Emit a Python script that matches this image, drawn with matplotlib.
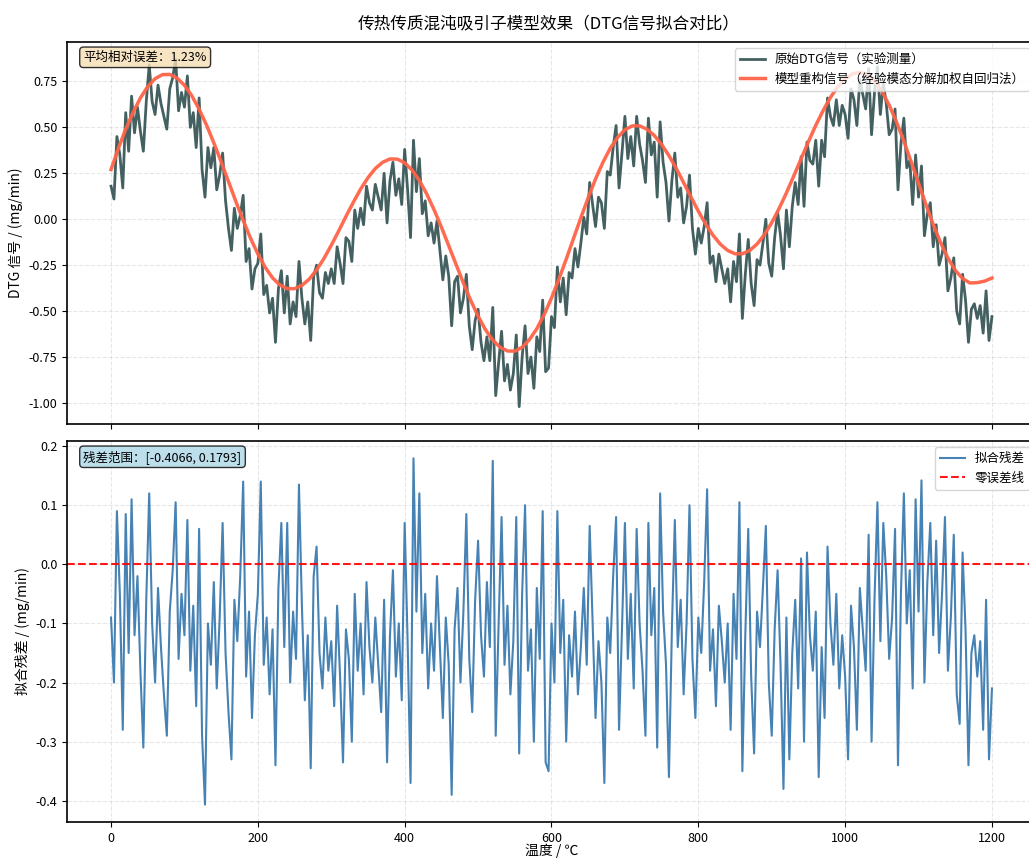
import matplotlib

matplotlib.use("Agg")
import matplotlib.pyplot as plt
import numpy as np

plt.rcParams["font.family"] = ["Noto Sans CJK SC", "DejaVu Sans"]
plt.rcParams["axes.unicode_minus"] = False

# 温度采样点（原始信号与残差），步长 4 ℃
temperature = np.arange(0, 1201, 4)

# 模型重构信号，步长 10 ℃
model_temperature = np.arange(0, 1201, 10)
model_signal = [
    0.27, 0.386, 0.49, 0.581, 0.66, 0.722, 0.765, 0.787, 0.788, 0.768,
    0.729, 0.672, 0.599, 0.513, 0.416, 0.313, 0.205, 0.097, -0.006, -0.103,
    -0.189, -0.262, -0.319, -0.358, -0.378, -0.378, -0.36, -0.326, -0.276, -0.214,
    -0.142, -0.065, 0.015, 0.092, 0.164, 0.226, 0.276, 0.310, 0.328, 0.327,
    0.307, 0.268, 0.211, 0.138, 0.052, -0.043, -0.144, -0.246, -0.347, -0.442,
    -0.528, -0.601, -0.658, -0.697, -0.717, -0.718, -0.697, -0.655, -0.596, -0.519,
    -0.429, -0.327, -0.218, -0.105, 0.008, 0.117, 0.219, 0.309, 0.386, 0.445,
    0.487, 0.508, 0.508, 0.490, 0.456, 0.407, 0.346, 0.276, 0.199, 0.121,
    0.044, -0.026, -0.087, -0.136, -0.170, -0.188, -0.188, -0.170, -0.135, -0.084,
    -0.019, 0.058, 0.143, 0.235, 0.329, 0.422, 0.511, 0.591, 0.663, 0.721,
    0.764, 0.791, 0.80, 0.788, 0.753, 0.697, 0.621, 0.529, 0.425, 0.312,
    0.196, 0.081, -0.029, -0.127, -0.211, -0.278, -0.323, -0.347, -0.345, -0.337,
    -0.32,
]

# 原始 DTG 信号（实验测量）
raw_signal = [
    0.18, 0.11, 0.45, 0.35, 0.17, 0.58, 0.37, 0.67, 0.47, 0.61, 0.48, 0.37, 0.64,
    0.84, 0.64, 0.57, 0.73, 0.63, 0.56, 0.49, 0.71, 0.77, 0.87, 0.59, 0.69,
    0.61, 0.78, 0.50, 0.58, 0.39, 0.66, 0.27, 0.12, 0.39, 0.28, 0.39, 0.16, 0.24,
    0.36, 0.10, -0.05, -0.17, 0.06, -0.05, 0.02, 0.13, -0.23, -0.16, -0.38, -0.27,
    -0.24, -0.08, -0.41, -0.36, -0.51, -0.43, -0.67, -0.38, -0.28, -0.51, -0.31,
    -0.57, -0.45, -0.53, -0.23, -0.43, -0.57, -0.45, -0.66, -0.31, -0.25, -0.40,
    -0.43, -0.29, -0.35,
    -0.27, -0.35, -0.15, -0.24, -0.35, -0.10, -0.12, -0.23, 0.05, -0.05, 0.06,
    -0.03, 0.18, 0.09, 0.05, 0.19, 0.12, 0.05, 0.25, -0.02, 0.21, 0.31, 0.13,
    0.22, 0.08,
    0.38, 0.16, -0.10, 0.43, 0.15, 0.33, 0.03, 0.10, -0.09, -0.02, -0.13, -0.01,
    -0.17, -0.33, -0.20, -0.31, -0.58, -0.34, -0.31, -0.51, -0.43, -0.30, -0.58,
    -0.71, -0.55,
    -0.49, -0.67, -0.77, -0.64, -0.77, -0.48, -0.96, -0.78, -0.61, -0.88, -0.79,
    -0.93, -0.84, -0.63, -1.02, -0.75, -0.58, -0.84, -0.75, -0.92, -0.64, -0.72,
    -0.44, -0.83, -0.81,
    -0.53, -0.59, -0.26, -0.45, -0.32, -0.52, -0.29, -0.32, -0.16, -0.26, -0.13,
    0.01, -0.08, 0.20, 0.08, -0.04, 0.12, 0.09, -0.05, 0.26, 0.24, 0.39, 0.51,
    0.17, 0.36,
    0.56, 0.33, 0.45, 0.29, 0.56, 0.41, 0.32, 0.20, 0.55, 0.35, 0.42, 0.12, 0.53,
    0.31, 0.20, -0.01, 0.21, 0.36, 0.12, 0.17, -0.02, 0.07, 0.24, -0.05, -0.19,
    -0.05, -0.13, -0.04, 0.09, -0.24, -0.20, -0.34, -0.19, -0.27, -0.35, -0.27,
    -0.45, -0.23, -0.34, -0.08, -0.54, -0.30, -0.11, -0.35, -0.47, -0.22, -0.25,
    -0.13, 0.00, -0.24,
    -0.31, -0.10, 0.04, -0.09, -0.27, 0.05, -0.15, 0.07, 0.20, 0.08, 0.34, 0.07,
    0.42, 0.32, 0.30, 0.43, 0.18, 0.43, 0.34, 0.66, 0.56, 0.51, 0.65, 0.51, 0.62,
    0.57, 0.44, 0.71, 0.65, 0.51, 0.76, 0.68, 0.60, 0.82, 0.46, 0.69, 0.83, 0.57,
    0.74, 0.63, 0.46, 0.49, 0.60, 0.16, 0.41, 0.55, 0.28, 0.32, 0.08, 0.35,
    0.12, 0.29, -0.09, 0.03, 0.09, -0.15, -0.03, -0.25, -0.19, -0.10, -0.39,
    -0.32, -0.21, -0.50, -0.57, -0.30, -0.44, -0.67, -0.49, -0.46, -0.54, -0.47,
    -0.62, -0.39, -0.66,
    -0.53,
]

# 拟合残差
residual = [
    -0.09, -0.20, 0.09, -0.05, -0.28, 0.085, -0.15, 0.11, -0.12, -0.02, -0.18,
    -0.31, -0.06, 0.12, -0.10, -0.2, -0.04, -0.14, -0.22, -0.29, -0.08, -0.01,
    0.105, -0.16, -0.05,
    -0.12, 0.075, -0.18, -0.07, -0.24, 0.06, -0.29, -0.4066, -0.10, -0.17, -0.03,
    -0.21, -0.09, 0.07, -0.15, -0.25, -0.33, -0.06, -0.13, -0.02, 0.14, -0.19,
    -0.08, -0.26, -0.12,
    -0.05, 0.14, -0.17, -0.09, -0.22, -0.11, -0.34, -0.04, 0.07, -0.14, 0.07,
    -0.2, -0.08, -0.16, 0.135, -0.07, -0.23, -0.12, -0.345, -0.02, 0.03, -0.15,
    -0.21, -0.09, -0.18,
    -0.13, -0.24, -0.07, -0.19, -0.335, -0.11, -0.16, -0.30, -0.05, -0.18, -0.1,
    -0.22, -0.03, -0.14, -0.2, -0.09, -0.17, -0.25, -0.06, -0.335, -0.12, -0.01,
    -0.19, -0.1, -0.23,
    0.07, -0.13, -0.37, 0.1793, -0.08, 0.12, -0.15, -0.05, -0.21, -0.1, -0.18,
    -0.02, -0.14, -0.26, -0.09, -0.17, -0.39, -0.11, -0.04, -0.2, -0.08, 0.085,
    -0.16, -0.25, -0.06,
    0.04, -0.12, -0.19, -0.03, -0.14, 0.175, -0.29, -0.1, 0.08, -0.17, -0.07,
    -0.22, -0.13, 0.08, -0.32, -0.05, 0.1, -0.18, -0.11, -0.3, -0.04, -0.16, 0.09,
    -0.335, -0.35,
    -0.1, -0.2, 0.09, -0.15, -0.06, -0.30, -0.12, -0.19, -0.08, -0.22, -0.14,
    -0.04, -0.17, 0.065, -0.1, -0.26, -0.13, -0.2, -0.37, -0.09, -0.15, -0.02,
    0.08, -0.28, -0.11,
    0.07, -0.16, -0.05, -0.21, 0.06, -0.1, -0.18, -0.29, 0.07, -0.12, -0.04,
    -0.31, 0.12, -0.08, -0.17, -0.36, -0.11, 0.075, -0.14, -0.06, -0.22, -0.1,
    0.1, -0.16, -0.26,
    -0.09, -0.15, -0.03, 0.127, -0.18, -0.11, -0.24, -0.07, -0.13, -0.2, -0.1,
    -0.28, -0.05, -0.16, 0.105, -0.35, -0.12, 0.06, -0.19, -0.32, -0.08, -0.14,
    -0.04, 0.065, -0.2,
    -0.29, -0.11, -0.01, -0.17, -0.38, -0.09, -0.33, -0.15, -0.06, -0.21, 0.01,
    -0.3, 0.02, -0.12, -0.18, -0.08, -0.36, -0.14, -0.26, 0.03, -0.1, -0.17,
    -0.05, -0.21, -0.12,
    -0.19, -0.33, -0.07, -0.14, -0.28, -0.04, -0.11, -0.18, 0.05, -0.3, -0.06,
    0.105, -0.13, 0.07, -0.02, -0.16, -0.09, 0.06, -0.34, -0.05, 0.12, -0.1,
    -0.01, -0.21, 0.11,
    -0.08, 0.142, -0.2, -0.03, 0.07, -0.12, 0.04, -0.15, -0.05, 0.08, -0.18,
    -0.09, 0.05, -0.22, -0.27, 0.02, -0.11, -0.34, -0.15, -0.12, -0.19, -0.13,
    -0.28, -0.06, -0.33,
    -0.21,
]

mean_relative_error = 1.23

fig = plt.figure(figsize=(10.29, 8.59), dpi=100)
ax_top = fig.add_axes([0.0651, 0.5064, 0.9417, 0.4447])
ax_bot = fig.add_axes([0.0651, 0.0431, 0.9417, 0.4435], sharex=ax_top)

ax_top.plot(temperature, raw_signal, color="#2F4F4F", lw=2, alpha=0.9,
            label="原始DTG信号（实验测量）")
ax_top.plot(model_temperature, model_signal, color="#FF6347", lw=2.5,
            alpha=0.95, label="模型重构信号（经验模态分解加权自回归法）")
ax_top.set_ylabel("DTG 信号 / (mg/min)", fontsize=10)
ax_top.legend(loc="upper right", fontsize=9, framealpha=0.8)
ax_top.text(0.017, 0.977, f"平均相对误差：{mean_relative_error:.2f}%",
            transform=ax_top.transAxes, fontsize=9, va="top",
            bbox=dict(boxstyle="round", facecolor="wheat", alpha=0.8))
ax_top.tick_params(labelbottom=False)

ax_bot.plot(temperature, residual, color="steelblue", lw=1.5, label="拟合残差")
ax_bot.axhline(0, color="red", ls="--", lw=1.5, alpha=0.9, label="零误差线")
ax_bot.set_xlabel("温度 / ℃", fontsize=10, labelpad=-1)
ax_bot.set_ylabel("拟合残差 / (mg/min)", fontsize=10)
ax_bot.legend(loc="upper right", fontsize=9, framealpha=0.8)
ax_bot.text(0.017, 0.977,
            f"残差范围：[{min(residual):.4f}, {max(residual):.4f}]",
            transform=ax_bot.transAxes, fontsize=9, va="top",
            bbox=dict(boxstyle="round", facecolor="lightblue", alpha=0.8))

for axis in (ax_top, ax_bot):
    axis.grid(True, ls="--", alpha=0.3)
    axis.tick_params(labelsize=9)
    for spine in axis.spines.values():
        spine.set_linewidth(1.2)

fig.suptitle("传热传质混沌吸引子模型效果（DTG信号拟合对比）", fontsize=12,
             x=0.533, y=0.982)
fig.savefig("out.png", dpi=100)
